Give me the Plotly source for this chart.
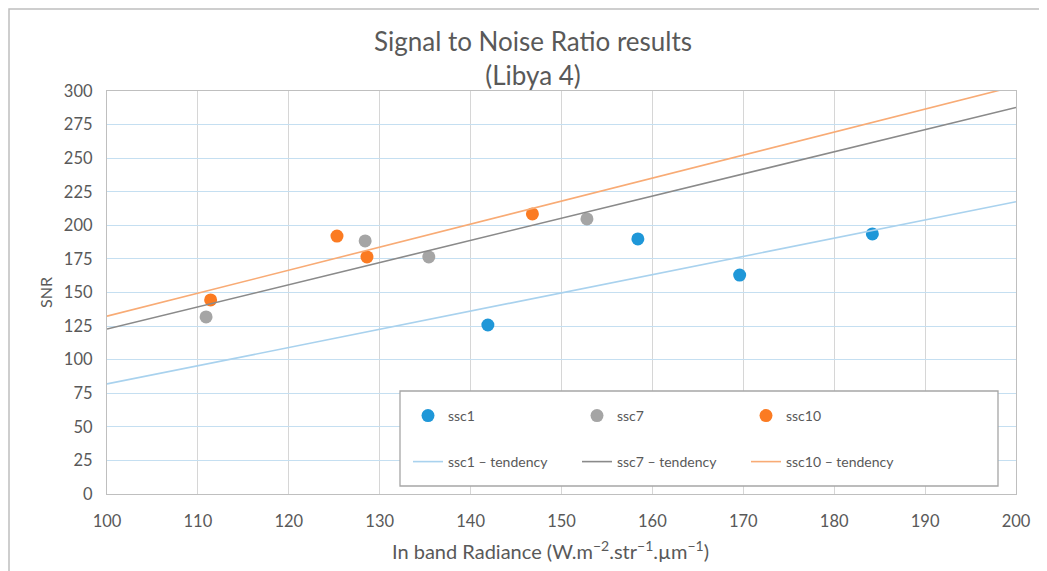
import numpy as np
import plotly.graph_objects as go

# ---- data ----
ssc1_x = [141.9, 158.4, 169.6, 184.2]
ssc1_y = [125.8, 189.9, 163.0, 193.6]
ssc7_x = [110.9, 128.4, 135.4, 152.8]
ssc7_y = [131.8, 188.4, 176.5, 204.8]
ssc10_x = [111.4, 125.3, 128.6, 146.8]
ssc10_y = [144.5, 192.0, 176.5, 208.5]

x_range = [100, 200]
y_range = [0, 300]
x_ticks = [100, 110, 120, 130, 140, 150, 160, 170, 180, 190, 200]
y_ticks = [0, 25, 50, 75, 100, 125, 150, 175, 200, 225, 250, 275, 300]

series = [
    ("ssc1", ssc1_x, ssc1_y, "#1f97d8", "#a9d2ee"),
    ("ssc7", ssc7_x, ssc7_y, "#a5a5a5", "#8a8a8a"),
    ("ssc10", ssc10_x, ssc10_y, "#fb7b22", "#f8ab75"),
]

FONT = "Lato"
TXT = "#595959"

# page body has an 8px offset; figure is sized so that it fills the window
W, H = 1039, 563
ML, MR, MT, MB = 99, 31, 83, 77
PW, PH = W - ML - MR, H - MT - MB


def px_x(page_x):
    return (page_x - 8 - ML) / PW


def px_y(page_y):
    return (H - MB - (page_y - 8)) / PH


fig = go.Figure()
for name, xs, ys, mc, lc in series:
    fig.add_trace(go.Scatter(
        x=xs, y=ys, mode="markers", name=name,
        marker=dict(color=mc, size=13),
        legend="legend",
    ))
for name, xs, ys, mc, lc in series:
    slope, icpt = np.polyfit(xs, ys, 1)
    tx = np.array(x_range, dtype=float)
    fig.add_trace(go.Scatter(
        x=tx, y=slope * tx + icpt, mode="lines", name=f"{name} \u2013 tendency",
        line=dict(color=lc, width=1.6),
        legend="legend2", cliponaxis=True,
    ))

legend_common = dict(
    orientation="h", bgcolor="rgba(0,0,0,0)", borderwidth=0,
    font=dict(family=FONT, size=14, color=TXT),
    entrywidth=124, entrywidthmode="pixels",
    xanchor="left", yanchor="middle", itemwidth=30,
)

fig.update_layout(
    width=W, height=H,
    paper_bgcolor="white", plot_bgcolor="white",
    margin=dict(l=ML, r=MR, t=MT, b=MB),
    font=dict(family=FONT, color=TXT),
    title=dict(
        text="Signal to Noise Ratio results<br>(Libya 4)",
        x=(533 - 8) / W, xanchor="center", y=1 - (51 - 8) / H, yanchor="top",
        font=dict(family=FONT, size=26, color=TXT),
    ),
    xaxis=dict(
        range=x_range, tickvals=x_ticks, showgrid=True, gridcolor="#d6d6d6", gridwidth=1.3,
        showline=True, linecolor="#bfbfbf", linewidth=1.3, mirror=True,
        ticks="outside", ticklen=12, tickcolor="rgba(0,0,0,0)",
        tickfont=dict(family=FONT, size=16.5, color=TXT), zeroline=False,
    ),
    yaxis=dict(
        range=y_range, tickvals=y_ticks, showgrid=True, gridcolor="#c5dff1", gridwidth=1.3,
        showline=True, linecolor="#bfbfbf", linewidth=1.3, mirror=True,
        ticks="outside", ticklen=10, tickcolor="rgba(0,0,0,0)",
        tickfont=dict(family=FONT, size=16.5, color=TXT), zeroline=False,
        title=dict(text="SNR", font=dict(family=FONT, size=16, color=TXT), standoff=7),
    ),
    legend=dict(x=px_x(408), y=px_y(416), **legend_common),
    legend2=dict(x=px_x(408), y=px_y(462), **legend_common),
    annotations=[
        dict(text="In band Radiance (W.m<sup>\u22122</sup>.str<sup>\u22121</sup>.\u00b5m<sup>\u22121</sup>)",
             xref="paper", yref="paper", x=px_x(550), y=px_y(550), xanchor="center", yanchor="middle",
             showarrow=False, font=dict(family=FONT, size=20, color=TXT)),
    ],
    shapes=[
        dict(type="rect", xref="paper", yref="paper", x0=px_x(400), x1=px_x(998),
             y0=px_y(486), y1=px_y(391), fillcolor="white",
             line=dict(color="#a6a6a6", width=1.3), layer="above"),
        dict(type="rect", xref="paper", yref="paper", x0=px_x(9), x1=1.2,
             y0=-0.5, y1=px_y(9), fillcolor="rgba(0,0,0,0)",
             line=dict(color="#bfbfbf", width=1.5), layer="below"),
    ],
)

fig.write_html("out.html")
